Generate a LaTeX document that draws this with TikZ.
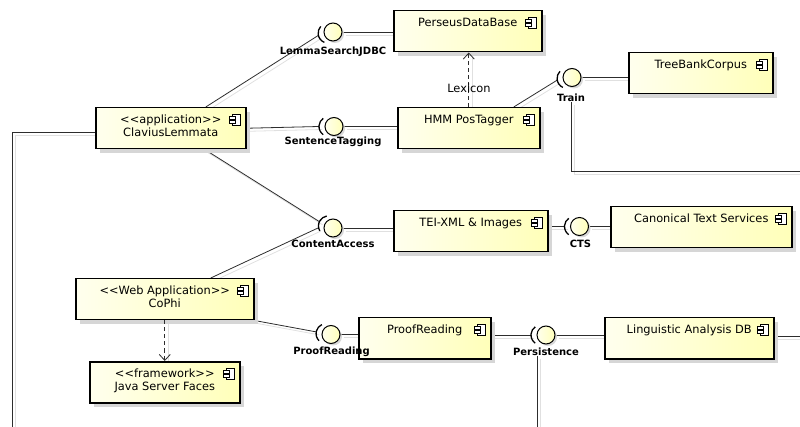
\documentclass[tikz,border=0pt]{standalone}
\usepackage{fontspec}
\setmainfont{DejaVu Sans}
\usetikzlibrary{arrows.meta,calc,shadows,backgrounds}

\definecolor{compA}{RGB}{255,255,238}
\definecolor{compB}{RGB}{255,255,185}
\definecolor{wirecol}{RGB}{45,45,45}

\newcommand\boxfont{\fontsize{11.4}{13.5}\selectfont}
\newcommand\ifacefont{\fontsize{10}{12}\selectfont\bfseries}
% two centred lines, baseline on the first one
\newcommand\twolines[2]{\begin{tabular}[t]{@{}c@{}}#1\\#2\end{tabular}}

% component icon in the upper right corner of a component box
\newcommand\compicon[1]{%
  \draw[black, line width=0.7pt, fill=white]
    ($(#1.north east)+(-14,7)$) rectangle ($(#1.north east)+(-6,18)$);
  \draw[black, line width=0.7pt, fill=white]
    ($(#1.north east)+(-17,9.5)$) rectangle ($(#1.north east)+(-11,12)$);
  \draw[black, line width=0.7pt, fill=white]
    ($(#1.north east)+(-17,13.5)$) rectangle ($(#1.north east)+(-11,16)$);
}
% required-interface socket facing direction #2 around ball #1
\newcommand\socket[2]{%
  \draw[sock] ($(#1.center)+(#2:5)+(#2-55:10)$)
    arc[start angle=#2-55, end angle=#2+55, radius=10];
}

\tikzset{
  comp/.style={draw=black, line width=1.5pt,
    left color=compA, right color=compB,
    drop shadow={shadow xshift=4pt, shadow yshift=-4pt, fill=black!16, opacity=1},
    anchor=north west, inner xsep=4pt, inner ysep=3pt,
    text height=12.5pt, text depth=22.5pt, font=\boxfont},
  ball/.style={circle, draw=black, line width=1pt, minimum size=18pt, inner sep=0pt,
    left color=compA, right color=compB,
    drop shadow={shadow xshift=2pt, shadow yshift=-2pt, fill=black!15, opacity=1}},
  sock/.style={draw=black, line width=1.3pt},
  wire/.style={draw=wirecol, line width=0.8pt},
  wireshade/.style={draw=black!12, line width=0.8pt,
    transform canvas={xshift=3pt, yshift=-3pt}},
  dep/.style={draw=wirecol, line width=0.8pt, dash pattern=on 4pt off 3pt,
    -{Straight Barb[length=6pt, width=11pt]}},
  depshade/.style={draw=black!12, line width=0.8pt,
    transform canvas={xshift=4pt}},
  ifacelbl/.style={font=\ifacefont, inner sep=0pt},
}

\begin{document}
\begin{tikzpicture}[x=1pt, y=-1pt]
\useasboundingbox (0,0) rectangle (800,427);

% components
\foreach \c/\x/\y/\w/\t in {
  clav/95/107/150/{\twolines{<\kern0pt<application>\kern0pt>}{ClaviusLemmata}},
  perseus/393/10/148/{PerseusDataBase},
  hmm/397/107/142/{HMM PosTagger},
  treebank/628/52/144/{TreeBankCorpus},
  tei/393/210/154/{TEI-XML \& Images},
  canon/610/206/181/{Canonical Text Services},
  proofbox/358/317/132/{ProofReading},
  ling/604/317/169/{Linguistic Analysis DB},
  cophi/75/278/178/{\twolines{<\kern0pt<Web Application>\kern0pt>}{CoPhi}},
  jsf/89/361/150/{\twolines{<\kern0pt<framework>\kern0pt>}{Java Server Faces}}}
{
  \node[comp, minimum width=\w pt] (\c) at (\x,\y) {\t};
  \compicon{\c}
}

% interface balls
\node[ball] (jdbc)    at (333,32)    {};
\node[ball] (sent)    at (334,126.5) {};
\node[ball] (content) at (333,228)   {};
\node[ball] (proofi)  at (331,334.5) {};
\node[ball] (train)   at (572,77.5)  {};
\node[ball] (ctsi)    at (579.5,226.5) {};
\node[ball] (persist) at (546,335)   {};

% sockets of the requiring side
\socket{jdbc}{167}
\socket{sent}{180}
\socket{content}{205}
\socket{proofi}{190}
\socket{train}{170}
\socket{ctsi}{180}
\socket{persist}{180}

\coordinate (jdbcs)    at ($(jdbc.center)+(167:15)$);
\coordinate (sents)    at ($(sent.center)+(180:15)$);
\coordinate (contents) at ($(content.center)+(205:15)$);
\coordinate (contentw) at ($(content.center)+(180:15)$);
\coordinate (proofs)   at ($(proofi.center)+(190:15)$);
\coordinate (trains)   at ($(train.center)+(170:15)$);
\coordinate (ctss)     at ($(ctsi.center)+(180:15)$);
\coordinate (persists) at ($(persist.center)+(180:15)$);

% interface labels
\node[ifacelbl] (jdbcl)    at (333,51.5)  {LemmaSearchJDBC};
\node[ifacelbl] (sentl)    at (333,141.5) {SentenceTagging};
\node[ifacelbl] (contentl) at (333,244)   {ContentAccess};
\node[ifacelbl] (proofl)   at (331.5,351.5) {ProofReading};
\node[ifacelbl] (trainl)   at (571,98)    {Train};
\node[ifacelbl] (ctsl)     at (580.5,244) {CTS};
\node[ifacelbl] (persistl) at (546,351.5) {Persistence};

% free ends at the picture border
\coordinate (leftend)  at (12,432);
\coordinate (trainend) at (805,171);
\coordinate (lingend)  at (805,336);
\coordinate (persend)  at (537.5,432);

\begin{scope}[on background layer]
  % soft shadow copies of the connectors
  \begin{scope}[wireshade]
    \draw ($(clav.north)+(35,0)$) -- (jdbcs);
    \draw (jdbc.east) -- (jdbc.east -| perseus.west);
    \draw (clav.east) -- (sents);
    \draw (sent.east) -- (sent.east -| hmm.west);
    \draw ($(clav.south)+(34,0)$) -- (contents);
    \draw ($(cophi.north)+(46,0)$) -- (contentw);
    \draw (content.east) -- (content.east -| tei.west);
    \draw ($(hmm.north)+(45,0)$) -- (trains);
    \draw (train.east) -- (train.east -| treebank.west);
    \draw (trainl.south) |- (trainend);
    \draw (tei.east |- ctss) -- (ctss);
    \draw (ctsi.east) -- (ctsi.east -| canon.west);
    \draw (cophi.south east) -- (proofs);
    \draw (proofi.east) -- (proofi.east -| proofbox.west);
    \draw (proofbox.east |- persists) -- (persists);
    \draw (persist.east) -- (persist.east -| ling.west);
    \draw (ling.east |- lingend) -- (lingend);
    \draw ([yshift=-4pt]clav.west) -| (leftend);
    \draw (persend |- persistl.south) -- (persend);
  \end{scope}
  \draw[depshade] (hmm.north) -- (hmm.north |- perseus.south);
  \draw[depshade] (cophi.south) -- (cophi.south |- jsf.north);

  % connectors
  \draw[wire] ($(clav.north)+(35,0)$) -- (jdbcs);
  \draw[wire] (jdbc.east) -- (jdbc.east -| perseus.west);
  \draw[wire] (clav.east) -- (sents);
  \draw[wire] (sent.east) -- (sent.east -| hmm.west);
  \draw[wire] ($(clav.south)+(34,0)$) -- (contents);
  \draw[wire] ($(cophi.north)+(46,0)$) -- (contentw);
  \draw[wire] (content.east) -- (content.east -| tei.west);
  \draw[wire] ($(hmm.north)+(45,0)$) -- (trains);
  \draw[wire] (train.east) -- (train.east -| treebank.west);
  \draw[wire] (trainl.south) |- (trainend);
  \draw[wire] (tei.east |- ctss) -- (ctss);
  \draw[wire] (ctsi.east) -- (ctsi.east -| canon.west);
  \draw[wire] (cophi.south east) -- (proofs);
  \draw[wire] (proofi.east) -- (proofi.east -| proofbox.west);
  \draw[wire] (proofbox.east |- persists) -- (persists);
  \draw[wire] (persist.east) -- (persist.east -| ling.west);
  \draw[wire] (ling.east |- lingend) -- (lingend);
  \draw[wire] ([yshift=-4pt]clav.west) -| (leftend);
  \draw[wire] (persend |- persistl.south) -- (persend);
\end{scope}

% dependencies
\draw[dep] (hmm.north) -- (hmm.north |- perseus.south);
\node[font=\boxfont, inner sep=0pt] (lexicon) at (469,88) {Lexicon};
\draw[dep] (cophi.south) -- (cophi.south |- jsf.north);
\end{tikzpicture}
\end{document}
